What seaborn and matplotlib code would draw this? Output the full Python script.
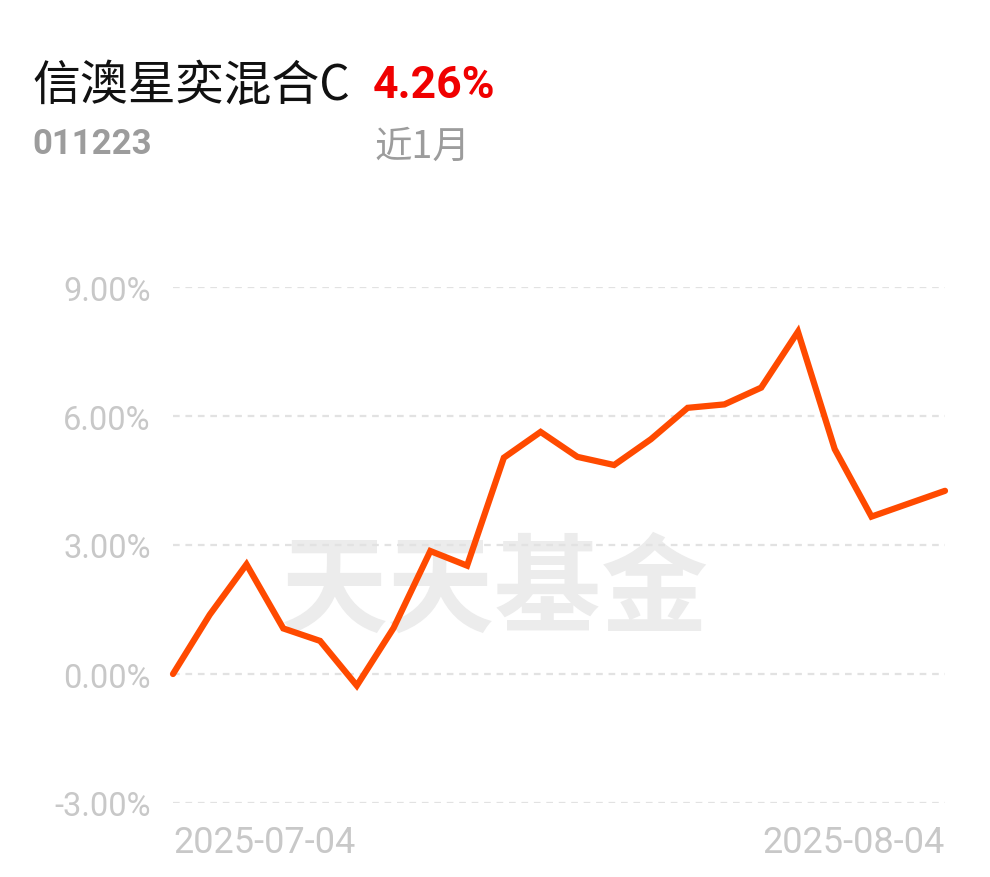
import matplotlib
matplotlib.use("Agg")
import matplotlib.pyplot as plt
import seaborn as sns
import pandas as pd

# 近1月 累计收益率 (%)
dates = ["2025-07-04", "2025-07-07", "2025-07-08", "2025-07-09", "2025-07-10", "2025-07-11",
         "2025-07-14", "2025-07-15", "2025-07-16", "2025-07-17", "2025-07-18",
         "2025-07-21", "2025-07-22", "2025-07-23", "2025-07-24", "2025-07-25",
         "2025-07-28", "2025-07-29", "2025-07-30", "2025-07-31", "2025-08-01", "2025-08-04"]
returns = [0.00, 1.38, 2.55, 1.06, 0.77, -0.27,
           1.07, 2.86, 2.52, 5.03, 5.63,
           5.05, 4.86, 5.46, 6.19, 6.27,
           6.66, 7.96, 5.23, 3.66, 3.96, 4.26]
y_ticks = [-3, 0, 3, 6, 9]
fund_name = "信澳星奕混合C"
fund_code = "011223"
period_label = "近1月"
period_return = "4.26%"

LINE = "#ff4a00"
GRID = "#e2e2e2"
TICK = "#c8c8c8"

df = pd.DataFrame({"pos": range(len(dates)), "date": dates, "ret": returns})

sns.set_theme(style="white")
plt.rcParams["font.family"] = ["Roboto", "Noto Sans CJK SC", "DejaVu Sans"]

fig = plt.figure(figsize=(9.9, 8.78), dpi=100)
W, H = 990, 878
ax = fig.add_axes([173 / W, (H - 804) / H, 772 / W, 516 / H])

# 水印
ax.text(0.417, 0.41, "天天基金", transform=ax.transAxes, ha="center", va="center",
        fontsize=77, fontweight="bold", color="#ececec",
        family=["Noto Sans CJK SC"], zorder=0)

for yv in y_ticks:
    ax.axhline(yv, color=GRID, lw=1.6, ls=(0, (3, 2.6)), zorder=1)

sns.lineplot(data=df, x="pos", y="ret", ax=ax, color=LINE, lw=4.5, zorder=3,
             solid_joinstyle="miter", solid_capstyle="round", clip_on=False)

ax.set_xlim(0, len(dates) - 1)
ax.set_ylim(-3, 9)
ax.set_yticks(y_ticks)
ax.set_yticklabels([f"{v:.2f}%" for v in y_ticks])
ax.set_xticks([0, len(dates) - 1])
ax.set_xticklabels([dates[0], dates[-1]])
xl = ax.get_xticklabels()
xl[0].set_ha("left")
xl[1].set_ha("right")
ax.tick_params(axis="y", length=0, pad=16, labelsize=23.5, labelcolor=TICK)
ax.tick_params(axis="x", length=0, pad=15, labelsize=26, labelcolor=TICK)
ax.set_xlabel("")
ax.set_ylabel("")
for s in ax.spines.values():
    s.set_visible(False)

# 标题区
fig.text(32 / W, 1 - 86 / H, fund_name, ha="left", va="center", fontsize=34.5,
         color="#111111", family=["Noto Sans CJK SC"])
fig.text(373 / W, 1 - 86 / H, period_return, ha="left", va="center", fontsize=32,
         fontweight="bold", color="#f00000", family=["Roboto"])
fig.text(32 / W, 1 - 145 / H, fund_code, ha="left", va="center", fontsize=25,
         fontweight="bold", color="#9c9c9c", family=["Roboto"])
fig.text(375 / W, 1 - 147 / H, period_label, ha="left", va="center", fontsize=27,
         color="#9c9c9c", family=["Noto Sans CJK SC"])

fig.savefig("out.png", dpi=100, facecolor="white")
